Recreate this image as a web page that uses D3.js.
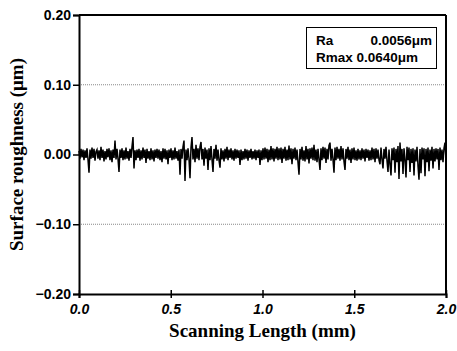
<!DOCTYPE html>
<html>
<head>
<meta charset="utf-8">
<script src="https://cdn.jsdelivr.net/npm/d3@7"></script>
<style>
  body { margin: 0; background: #fff; }
  svg { display: block; }
</style>
</head>
<body>
<svg id="chart" width="457" height="351"></svg>
<script>
// profile values (um), one per pixel column
const roughness = [
  .005,-.006,.008,-.004,.007,-.008,.006,-.005,.009,-.007,-.026,.007,-.006,.010,-.005,.008,-.009,.004,.007,-.006,
  .006,-.008,.011,-.005,.007,-.010,.005,-.007,.008,-.004,.009,-.008,.006,-.011,.007,-.005,.020,-.007,.008,-.006,
  -.025,.007,-.005,.009,-.008,.006,-.007,.010,-.006,.005,-.009,.008,-.005,.011,.025,-.020,.006,-.008,.007,-.005,
  .008,-.009,.006,-.007,.010,-.005,.007,-.012,.008,-.006,.005,-.008,.009,-.007,.006,-.010,.007,-.005,.008,-.006,
  .007,-.008,.005,-.011,.009,-.006,.008,-.007,.006,-.014,.007,-.005,.009,-.008,.006,-.007,.010,-.006,.005,-.009,
  .007,-.029,.008,-.006,.011,.020,-.038,.007,-.008,.009,-.006,-.034,.010,.025,-.007,.008,-.011,.014,-.006,.009,
  -.008,.011,.018,-.007,.008,-.016,.010,-.006,.007,-.022,.009,-.008,.012,-.007,-.025,.008,-.006,.014,-.009,.007,
  -.008,-.019,.009,-.007,.006,-.010,.008,-.006,.011,-.008,.007,-.005,.009,-.007,.006,-.009,.008,-.006,.007,-.005,
  .006,-.015,.007,-.008,.005,-.007,.008,-.006,.007,-.009,.006,-.005,.008,-.007,.005,-.006,.007,-.008,.006,-.005,
  .007,-.015,.006,-.008,.009,-.007,.010,-.006,.008,-.011,.007,-.008,.012,-.007,.009,-.010,.008,-.006,.011,-.008,
  .009,-.007,.010,-.012,.008,-.006,.011,-.009,.007,-.008,.013,-.007,.009,-.014,.008,-.006,.010,-.008,.007,-.011,
  -.029,.008,-.007,.011,-.009,.006,-.010,.012,-.007,.008,-.013,.009,-.006,.010,-.008,.014,-.009,.007,-.011,.008,
  -.007,-.022,.009,-.008,.011,-.006,.010,-.012,.008,-.007,.013,.017,-.009,.008,-.007,-.026,.010,-.008,.011,-.006,
  .008,-.009,.012,-.007,.009,-.010,-.022,.008,-.006,.011,-.008,.007,-.012,.009,-.007,.010,-.008,.006,-.009,.008,
  -.007,.006,-.008,.009,-.006,.007,-.010,.008,-.005,.007,-.009,.006,-.008,.010,-.007,.008,-.011,.009,-.006,.007,
  -.008,-.014,.010,-.007,-.020,.008,-.006,.011,-.009,-.025,.007,-.014,-.030,.009,-.008,.010,-.026,.008,-.011,.012,
  -.035,.017,-.010,.008,-.028,.009,-.007,-.033,.011,-.008,.010,-.025,.008,-.012,.009,-.030,.007,-.010,.011,-.016,
  -.036,.008,-.027,.010,-.007,.009,-.031,.008,-.011,.010,-.024,.007,-.009,.011,-.020,.008,-.010,.009,-.007,.008,
  -.022,.010,-.008,.007,-.011,.009,.017,-.007
];
const scanLength = 2.0; // mm
const xTicks = [0, 0.5, 1.0, 1.5, 2.0];
const yTicks = [0.20, 0.10, 0.00, -0.10, -0.20];
const gridLevels = [0.10, -0.10];
const legendRows = [["Ra", "0.0056\u03bcm"], ["Rmax", "0.0640\u03bcm"]];

const W = 457, H = 351;
const margin = { top: 15, right: 11, bottom: 57, left: 79 };
const svg = d3.select('#chart');

const x = d3.scaleLinear().domain([0, scanLength]).range([margin.left, W - margin.right]);
const y = d3.scaleLinear().domain([-0.2, 0.2]).range([H - margin.bottom, margin.top]);

// dotted grid
svg.append('g').selectAll('line')
  .data(gridLevels)
  .enter().append('line')
  .attr('x1', x(0)).attr('x2', x(scanLength))
  .attr('y1', d => y(d)).attr('y2', d => y(d))
  .attr('stroke', '#888').attr('stroke-width', 1)
  .attr('stroke-dasharray', '1,1');

// profile trace
const step = scanLength / (roughness.length - 1);
const line = d3.line()
  .x((d, i) => x(i * step))
  .y(d => y(d));
svg.append('path')
  .datum(roughness)
  .attr('d', line)
  .attr('fill', 'none')
  .attr('stroke', '#000')
  .attr('stroke-width', 1.5);

// axes
const yAxis = d3.axisLeft(y).tickValues(yTicks).tickSize(6).tickFormat(d3.format('.2f'));
const gy = svg.append('g')
  .attr('transform', 'translate(' + margin.left + ',0)')
  .call(yAxis);

const xAxis = d3.axisBottom(x).tickValues(xTicks).tickSize(4).tickFormat(d3.format('.1f'));
const gx = svg.append('g')
  .attr('transform', 'translate(0,' + (H - margin.bottom) + ')')
  .call(xAxis);

[gx, gy].forEach(g => {
  g.select('.domain').attr('stroke', '#000').attr('stroke-width', 2);
  g.selectAll('.tick line').attr('stroke', '#000').attr('stroke-width', 1.5);
  g.selectAll('text')
    .attr('fill', '#000')
    .style('font-family', 'Liberation Sans, Arial, sans-serif')
    .style('font-weight', 'bold')
    .style('font-size', '14px');
});
gx.selectAll('.tick line').attr('y1', -4);
gx.selectAll('text').style('font-style', 'italic').attr('dy', '0.95em');
gy.selectAll('text').attr('x', -8);

// top + right frame
svg.append('line')
  .attr('x1', x(0)).attr('x2', x(scanLength))
  .attr('y1', y(0.2)).attr('y2', y(0.2))
  .attr('stroke', '#000').attr('stroke-width', 2);
svg.append('line')
  .attr('x1', x(scanLength)).attr('x2', x(scanLength))
  .attr('y1', y(0.2)).attr('y2', y(-0.2))
  .attr('stroke', '#000').attr('stroke-width', 2);

// titles
svg.append('text')
  .attr('x', (x(0) + x(scanLength)) / 2)
  .attr('y', 337)
  .attr('text-anchor', 'middle')
  .style('font-family', 'Liberation Serif, Times New Roman, serif')
  .style('font-weight', 'bold')
  .style('font-size', '19px')
  .text('Scanning Length (mm)');

svg.append('text')
  .attr('transform', 'translate(23,' + ((y(0.2) + y(-0.2)) / 2) + ') rotate(-90)')
  .attr('text-anchor', 'middle')
  .style('font-family', 'Liberation Serif, Times New Roman, serif')
  .style('font-weight', 'bold')
  .style('font-size', '19px')
  .text('Surface roughness (\u03bcm)');

// legend box
const lg = svg.append('g');
lg.append('rect')
  .attr('x', 306.5).attr('y', 27.5)
  .attr('width', 130).attr('height', 41)
  .attr('fill', '#fff').attr('stroke', '#000').attr('stroke-width', 1);
legendRows.forEach((r, i) => {
  const t = lg.append('text')
    .attr('y', 45 + i * 17)
    .style('font-family', 'Liberation Sans, Arial, sans-serif')
    .style('font-weight', 'bold')
    .style('font-size', '13.5px');
  if (i === 0) {
    t.attr('x', 316).text(r[0]);
    lg.append('text')
      .attr('x', 432).attr('y', 45)
      .attr('text-anchor', 'end')
      .style('font-family', 'Liberation Sans, Arial, sans-serif')
      .style('font-weight', 'bold')
      .style('font-size', '13.5px')
      .text(r[1]);
  } else {
    t.attr('x', 316).text(r[0] + ' ' + r[1]);
  }
});
</script>
</body>
</html>
